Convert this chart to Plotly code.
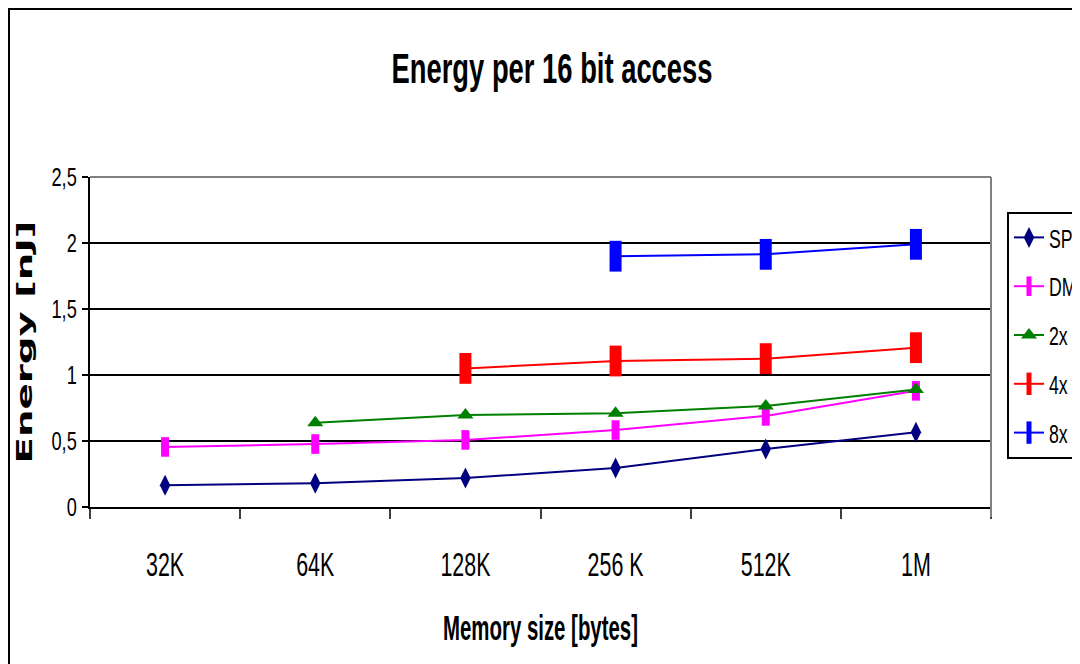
import plotly.graph_objects as go

categories = ["32K", "64K", "128K", "256 K", "512K", "1M"]
spm = [0.165, 0.18, 0.22, 0.295, 0.44, 0.567]
dm = [0.455, 0.477, 0.508, 0.583, 0.69, 0.88]
x2 = [None, 0.638, 0.697, 0.71, 0.765, 0.89]
x4 = [None, None, 1.05, 1.106, 1.124, 1.207]
x8 = [None, None, None, 1.90, 1.914, 1.99]
y_ticks = [0, 0.5, 1, 1.5, 2, 2.5]

SANS = "Liberation Sans, Arial, sans-serif"

series = [
    ("SPM", spm, "#000080", dict(symbol="diamond-tall", size=15, color="#000080")),
    ("DM", dm, "#FF00FF", dict(symbol="line-ns", size=14, line=dict(width=8, color="#FF00FF"))),
    ("2x", x2, "#008000", dict(symbol="triangle-up", size=14, color="#008000")),
    ("4x", x4, "#FF0000", dict(symbol="line-ns", size=22, line=dict(width=12, color="#FF0000"))),
    ("8x", x8, "#0000FF", dict(symbol="line-ns", size=22, line=dict(width=12, color="#0000FF"))),
]

fig = go.Figure()
for name, vals, col, mk in series:
    fig.add_trace(go.Scatter(
        x=categories, y=vals, name=name, mode="lines+markers",
        line=dict(color=col, width=2), marker=mk, legendgroup=name,
        connectgaps=False,
    ))

# page body has an 8px margin: figure is 1072x656 so it fills the 1080x664 window
L, T, PW, PH = 82, 169, 901, 330
W, H = 1072, 656
fig.update_layout(
    width=W, height=H,
    paper_bgcolor="white", plot_bgcolor="white",
    margin=dict(l=L, r=W - L - PW, t=T, b=H - T - PH, autoexpand=False),
    separators=", ",
    font=dict(family=SANS, color="black"),
    title=dict(text="Energy per 16 bit access", x=544 / W, xanchor="center",
               y=1 - 60 / H, yanchor="middle",
               font=dict(family=SANS, size=42, color="black", weight="bold")),
    showlegend=True,
    legend=dict(x=(999 - L) / PW, xanchor="left", y=(T + PH - 204) / PH, yanchor="top",
                bordercolor="black", borderwidth=2, bgcolor="white",
                font=dict(family=SANS, size=26, color="black"),
                tracegroupgap=12, itemwidth=30),
)

fig.update_xaxes(
    type="category", categoryorder="array", categoryarray=categories,
    range=[-0.5, 5.5], tickson="boundaries", ticks="outside", ticklen=10,
    tickwidth=2, tickcolor="#404040",
    showline=True, linecolor="black", linewidth=2, showgrid=False,
    tickfont=dict(family=SANS, size=34, color="black"),
    ticklabelstandoff=26,
    title=dict(text="Memory size [bytes]", standoff=34,
               font=dict(family=SANS, size=35, color="black", weight="bold")),
)
fig.update_yaxes(
    range=[0, 2.5], tickvals=y_ticks, ticks="outside", ticklen=6, tickwidth=2,
    tickcolor="black",
    showline=True, linecolor="black", linewidth=2,
    showgrid=True, gridcolor="black", gridwidth=2, zeroline=False,
    tickfont=dict(family=SANS, size=26, color="black"),
    title=dict(text="Energy [nJ]", standoff=2,
               font=dict(family="DejaVu Sans", size=21, color="black", weight="bold")),
)

# plot-area border (top/right in gray) and outer chart frame
fig.add_shape(type="line", xref="paper", yref="paper", x0=0, x1=1, y0=1, y1=1,
              line=dict(color="#808080", width=2))
fig.add_shape(type="line", xref="paper", yref="paper", x0=1, x1=1, y0=-0.03, y1=1,
              line=dict(color="#808080", width=2))
fig.add_shape(type="rect", xref="paper", yref="paper",
              x0=(1 - L) / PW, x1=(1100 - L) / PW,
              y0=(T + PH - 700) / PH, y1=(T + PH - 1) / PH,
              line=dict(color="black", width=2), fillcolor="rgba(0,0,0,0)", layer="below")

# the reference uses a tall, condensed rendering of the text: squeeze/stretch glyphs
post = """
var gd = document.getElementById('{plot_id}');
function fit(t, len){ t.setAttribute('textLength', len.toFixed(1)); t.setAttribute('lengthAdjust','spacingAndGlyphs'); }
function squeeze(sel, f){ gd.querySelectorAll(sel).forEach(function(t){ fit(t, t.getComputedTextLength()*f); }); }
function target(sel, len){ gd.querySelectorAll(sel).forEach(function(t){ fit(t, len); }); }
target('.gtitle', 321);
target('.xtitle', 195);
target('.ytitle', 243);
squeeze('.xtick text', 0.63);
squeeze('.ytick text', 0.70);
squeeze('.legendtext', 0.68);
"""
fig.write_html("out.html", post_script=post)
